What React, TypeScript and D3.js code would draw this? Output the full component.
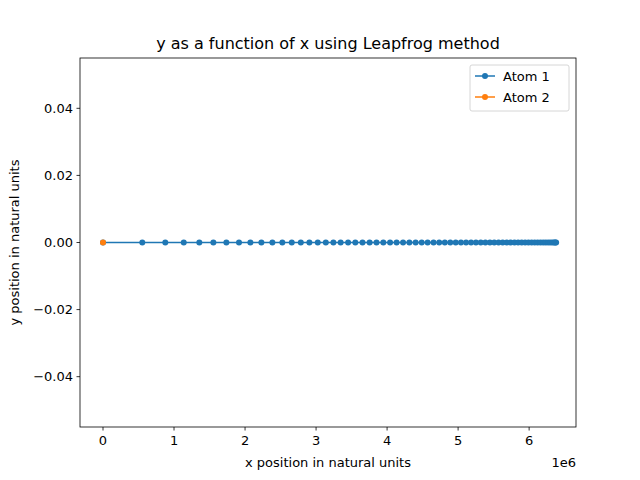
import React from "react";
import * as d3 from "d3";

const atom1X = [0, 0.553, 0.877, 1.137, 1.356, 1.554, 1.737, 1.915, 2.075, 2.23, 2.385, 2.525, 2.658, 2.785, 2.906, 3.024, 3.137, 3.244,
  3.346, 3.451, 3.553, 3.654, 3.754, 3.851, 3.947, 4.042, 4.134, 4.225, 4.314, 4.402, 4.487, 4.571, 4.654, 4.734, 4.813, 4.89, 4.966, 5.04,
  5.112, 5.182, 5.251, 5.319, 5.384, 5.448, 5.509, 5.57, 5.628, 5.685, 5.74, 5.794, 5.845, 5.895, 5.944, 5.99, 6.035, 6.078, 6.12, 6.16,
  6.198, 6.234, 6.269, 6.302, 6.333, 6.355, 6.37, 6.38];
const atom2X = [0];
const xTicks = [0, 1, 2, 3, 4, 5, 6];
const yTicks = [-0.04, -0.02, 0, 0.02, 0.04];

export default function App() {
  const L = 80, R = 576, T = 58, B = 427;
  const x = d3.scaleLinear().domain([-0.324, 6.66]).range([L, R]);
  const y = d3.scaleLinear().domain([-0.055, 0.055]).range([B, T]);
  const c1 = "#1f77b4", c2 = "#ff7f0e";
  const line = d3.line<number>().x(d => x(d)).y(() => y(0));
  const font = "DejaVu Sans";
  const fs = 13;
  return (
    <svg width={640} height={480} style={{ position: "absolute", left: 0, top: 0 }} fontFamily={font}>
      <rect width={640} height={480} fill="white" />
      <path d={line(atom1X)!} stroke={c1} strokeWidth={1.5} fill="none" />
      {atom1X.map((v, i) => <circle key={i} cx={x(v)} cy={y(0)} r={3} fill={c1} />)}
      <path d={line(atom2X)!} stroke={c2} strokeWidth={1.5} fill="none" />
      {atom2X.map((v, i) => <circle key={i} cx={x(v)} cy={y(0)} r={3} fill={c2} />)}
      <rect x={L} y={T} width={R - L} height={B - T} fill="none" stroke="black" strokeWidth={0.8} />
      {xTicks.map(t => (
        <g key={t}>
          <line x1={x(t)} x2={x(t)} y1={B} y2={B + 3.5} stroke="black" strokeWidth={0.8} />
          <text x={x(t)} y={B + 18} textAnchor="middle" fontSize={fs}>{t}</text>
        </g>
      ))}
      {yTicks.map(t => (
        <g key={t}>
          <line x1={L - 3.5} x2={L} y1={y(t)} y2={y(t)} stroke="black" strokeWidth={0.8} />
          <text x={L - 7} y={y(t) + 4.5} textAnchor="end" fontSize={fs}>{t === 0 ? "0.00" : (t < 0 ? "\u2212" : "") + Math.abs(t).toFixed(2)}</text>
        </g>
      ))}
      <text x={576} y={467} textAnchor="end" fontSize={fs}>1e6</text>
      <text x={(L + R) / 2} y={467} textAnchor="middle" fontSize={fs}>x position in natural units</text>
      <text transform={`translate(19,${(T + B) / 2}) rotate(-90)`} textAnchor="middle" fontSize={fs}>y position in natural units</text>
      <text x={(L + R) / 2} y={49} textAnchor="middle" fontSize={16}>y as a function of x using Leapfrog method</text>
      <g>
        <rect x={470} y={65} width={99} height={46} rx={2} fill="white" stroke="#ccc" strokeWidth={0.8} />
        <line x1={475} x2={495} y1={76} y2={76} stroke={c1} strokeWidth={1.5} />
        <circle cx={485} cy={76} r={3} fill={c1} />
        <text x={503} y={81} fontSize={fs}>Atom 1</text>
        <line x1={475} x2={495} y1={97} y2={97} stroke={c2} strokeWidth={1.5} />
        <circle cx={485} cy={97} r={3} fill={c2} />
        <text x={503} y={102} fontSize={fs}>Atom 2</text>
      </g>
    </svg>
  );
}
